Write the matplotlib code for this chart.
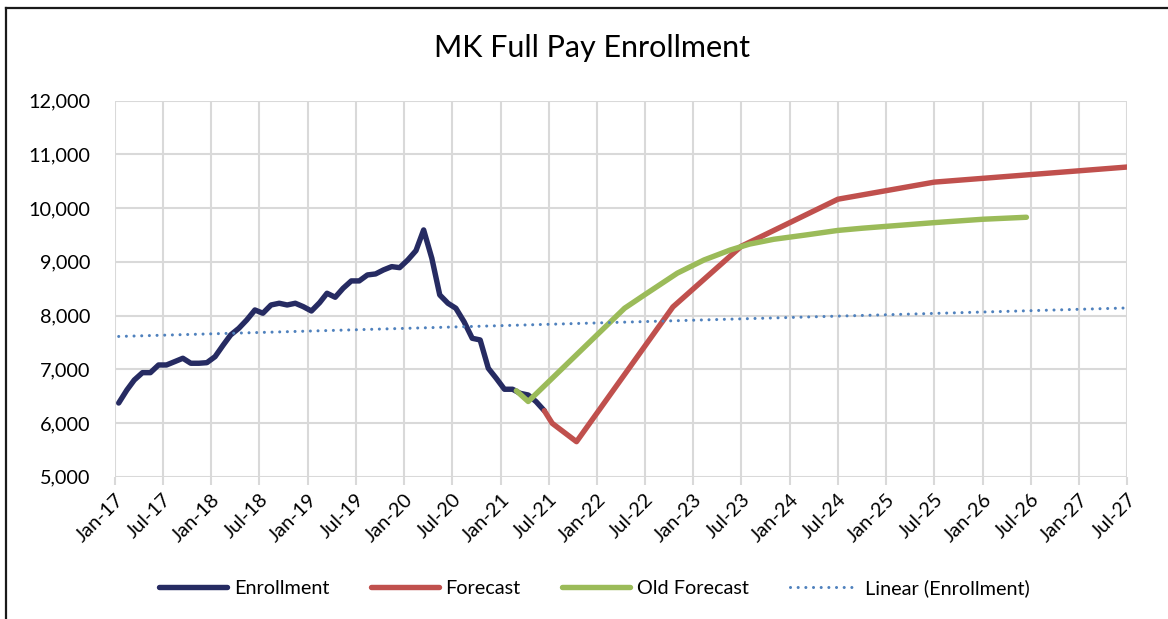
import numpy as np
import pandas as pd
import matplotlib
matplotlib.use('Agg')
import matplotlib.pyplot as plt
import matplotlib.dates as mdates
from matplotlib.lines import Line2D
from matplotlib.ticker import FuncFormatter, MultipleLocator

plt.rcParams['font.family'] = ['Lato', 'DejaVu Sans']

#
# データ
#
# 実績 (月次, 2017年1月から)
enroll_start = '2017-01-01'
enroll_vals = [6372, 6614, 6800, 6937, 6937, 7080, 7080, 7142, 7205, 7112,
               7112, 7123, 7235, 7452, 7639, 7763, 7918, 8104, 8043, 8197,
               8229, 8197, 8229, 8166, 8085, 8240, 8415, 8341, 8508, 8645,
               8645, 8756, 8775, 8850, 8911, 8892, 9035, 9209, 9594, 9067,
               8384, 8229, 8136, 7886, 7577, 7546, 7018, 6832, 6628, 6628,
               6553, 6521, 6397, 6229]

# 予測
fc_dates = ['2021-06-15', '2021-07-15', '2021-10-15', '2022-10-15',
            '2023-07-01', '2024-07-01', '2025-07-01', '2027-07-01']
fc_vals = [6229, 5994, 5652, 8160, 9290, 10166, 10484, 10765]

# 旧予測
old_dates = ['2021-03-01', '2021-04-15', '2022-04-15', '2022-07-01',
             '2022-11-01', '2023-02-10', '2023-05-20', '2023-08-01',
             '2023-11-01', '2024-03-01', '2024-07-01', '2024-10-01',
             '2025-07-01', '2026-01-01', '2026-06-15']
old_vals = [6600, 6400, 8136, 8390, 8790, 9035, 9220, 9330,
            9420, 9500, 9585, 9626, 9730, 9793, 9830]

# 線形トレンド (両端)
trend_dates = ['2017-01-15', '2027-06-20']
trend_vals = [7611, 8140]

enroll_dates = pd.date_range(enroll_start, periods=len(enroll_vals), freq='MS') + pd.Timedelta(days=14)
fc_dates = pd.to_datetime(fc_dates)
old_dates = pd.to_datetime(old_dates)
trend_dates = pd.to_datetime(trend_dates)

#
# 描画
#
fig = plt.figure(figsize=(11.68, 6.19), dpi=100)
ax = fig.add_axes([115/1168, 1-476.7/619, (1127-115)/1168, (476.7-100.7)/619])

ax.plot(enroll_dates, enroll_vals, color='#262B62', lw=3.9,
        solid_capstyle='round', solid_joinstyle='round', label='Enrollment', zorder=3)
ax.plot(fc_dates, fc_vals, color='#C0504D', lw=3.9,
        solid_capstyle='round', solid_joinstyle='round', label='Forecast', zorder=4)
ax.plot(old_dates, old_vals, color='#9BBB59', lw=3.9,
        solid_capstyle='round', solid_joinstyle='round', label='Old Forecast', zorder=5)
ax.plot(trend_dates, trend_vals, color='#4F81BD', lw=2.2,
        linestyle=(0, (0.01, 2.5)), dash_capstyle='round', label='Linear (Enrollment)', zorder=6)

ax.set_xlim(pd.Timestamp('2017-01-01'), pd.Timestamp('2027-07-01'))
ax.set_ylim(5000, 12000)
ax.xaxis.set_major_locator(mdates.MonthLocator(bymonth=[1, 7]))
ax.xaxis.set_major_formatter(mdates.DateFormatter('%b-%y'))
ax.yaxis.set_major_locator(MultipleLocator(1000))
ax.yaxis.set_major_formatter(FuncFormatter(lambda v, p: '{:,.0f}'.format(v)))

ax.grid(True, color='#D9D9D9', lw=1.5)
ax.set_axisbelow(True)
for s in ax.spines.values():
    s.set_visible(False)
ax.tick_params(axis='x', length=6, width=1.5, color='#D9D9D9', labelsize=14.3, pad=4)
ax.tick_params(axis='y', length=0, labelsize=14.3, pad=18)
for lb in ax.get_xticklabels():
    lb.set_rotation(45)
    lb.set_ha('right')
    lb.set_rotation_mode('anchor')

fig.text(0.507, 0.922, 'MK Full Pay Enrollment', ha='center', va='center', fontsize=22)

fig.legend(loc='center', bbox_to_anchor=(0.509, 0.05), ncol=4, frameon=False,
           fontsize=14.3, handlelength=3.4, handletextpad=0.35, columnspacing=2.1)

# 枠線
fig.add_artist(Line2D([6/1168, 6/1168], [0, 1-8/619], color='#1a1a1a', lw=1.6))
fig.add_artist(Line2D([6/1168, 1], [1-8/619, 1-8/619], color='#1a1a1a', lw=1.6))

fig.savefig('out.png', dpi=100)
